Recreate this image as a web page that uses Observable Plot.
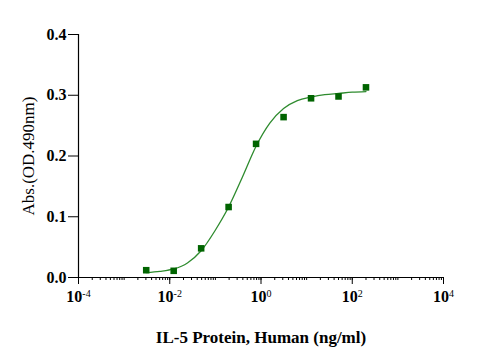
<!DOCTYPE html>
<html>
<head>
<meta charset="utf-8">
<script src="https://cdn.jsdelivr.net/npm/d3@7"></script>
<script src="https://cdn.jsdelivr.net/npm/@observablehq/plot@0.6"></script>
<style>
  html, body { margin: 0; padding: 0; background: #fff; }
  svg { display: block; }
  svg.chart g[aria-label="x-axis tick label"] text,
  svg.chart g[aria-label="y-axis tick label"] text { font-weight: bold; }
</style>
</head>
<body>
<div id="chart"></div>
<script>
// Measured points (4-fold dilution series)
const concentrations = [0.00305, 0.0122, 0.0488, 0.195, 0.78, 3.125, 12.5, 50, 200];
const absorbance = [0.012, 0.011, 0.048, 0.116, 0.220, 0.264, 0.295, 0.298, 0.313];

// Fitted curve
const curveX = [0.00305, 0.0061, 0.0122, 0.0244, 0.0488, 0.098, 0.195, 0.39, 0.78, 1.56, 3.125, 6.25, 12.5, 25, 50, 100, 200];
const curveY = [0.008, 0.010, 0.014, 0.024, 0.044, 0.077, 0.116, 0.165, 0.216, 0.254, 0.278, 0.291, 0.297, 0.301, 0.303, 0.305, 0.306];

// Axis ticks
const xMajorTicks = [1e-4, 1e-2, 1e0, 1e2, 1e4];
const xTickExponents = ["-4", "-2", "0", "2", "4"];
const yTicks = [0, 0.1, 0.2, 0.3, 0.4];
const yTickLabels = ["0.0", "0.1", "0.2", "0.3", "0.4"];
const xLabel = "IL-5 Protein, Human (ng/ml)";
const yLabel = "Abs.(OD.490nm)";

const points = concentrations.map((c, i) => ({c, a: absorbance[i]}));
const curve = curveX.map((c, i) => ({c, a: curveY[i]}));
const xMinorTicks = [];
for (let e = -4; e < 4; e++) for (let m = 1; m < 10; m++) if (m > 1 || e > -4) xMinorTicks.push(m * Math.pow(10, e));

const font = "'Liberation Serif', 'Times New Roman', serif";

const chart = Plot.plot({
  width: 480,
  height: 353,
  marginTop: 34,
  marginRight: 37,
  marginBottom: 76,
  marginLeft: 78,
  className: "chart",
  style: {fontFamily: font, background: "#fff", color: "#000"},
  x: {type: "log", domain: [1e-4, 1e4]},
  y: {domain: [0, 0.4]},
  marks: [
    Plot.axisX({ticks: xMinorTicks, tickSize: 3, tickFormat: () => "", stroke: "#000", label: null}),
    Plot.axisX({ticks: xMajorTicks, tickSize: 7, tickPadding: 6, stroke: "#000",
      tickFormat: d => "10",
      fontSize: 16, fill: "#000", label: null}),
    Plot.axisY({ticks: yTicks, tickSize: 10, tickPadding: 2, stroke: "#000",
      tickFormat: d => yTickLabels[yTicks.indexOf(d)],
      fontSize: 16, fill: "#000", label: null}),
    Plot.ruleY([0], {stroke: "#000", strokeWidth: 1.2}),
    Plot.ruleX([1e-4], {stroke: "#000", strokeWidth: 1.2}),
    Plot.line(curve, {x: "c", y: "a", curve: "monotone-x", stroke: "#2e8b2e", strokeWidth: 1.3}),
    Plot.dot(points, {x: "c", y: "a", symbol: "square", r: 3.7, fill: "#006400", stroke: "none"}),
    Plot.text([xLabel], {frameAnchor: "bottom", dy: 65, fontSize: 17, fontWeight: "bold", fill: "#000"}),
    Plot.text([yLabel], {frameAnchor: "left", dx: -50, rotate: -90, textAnchor: "middle", fontSize: 17, fill: "#000"})
  ]
});
document.getElementById("chart").appendChild(chart);

// remove the empty labels of the minor-tick axis, then superscript the exponents
const labelTexts = d3.select(chart).selectAll('g[aria-label="x-axis tick label"] text');
labelTexts.filter(function() { return this.textContent === ""; }).remove();
d3.select(chart).selectAll('g[aria-label="x-axis tick label"] text')
  .filter(function() { return this.textContent === "10"; })
  .each(function(d, i) {
    const t = d3.select(this);
    t.append("tspan").attr("dy", "-0.45em").attr("font-size", "10px").attr("font-weight", "normal").text(xTickExponents[i]);
  });
</script>
</body>
</html>
